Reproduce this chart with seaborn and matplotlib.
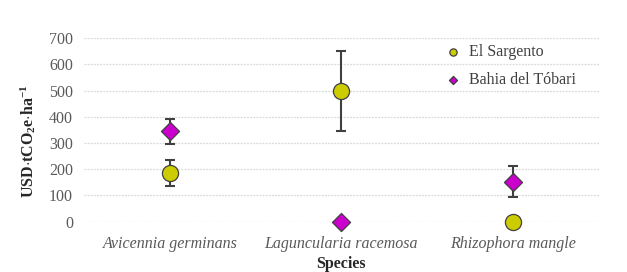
import numpy as np
import matplotlib
matplotlib.use("Agg")
import matplotlib.pyplot as plt
import pandas as pd
import seaborn as sns

species = ["Avicennia germinans", "Laguncularia racemosa", "Rhizophora mangle"]
sites = ["El Sargento", "Bahia del Tóbari"]
sargento_val = [187, 497, 0]
sargento_err = [50, 153, 0]
tobari_val = [344, 0, 153]
tobari_err = [49, 0, 58]

sns.set_style("white")
plt.rcParams["font.family"] = ["Liberation Serif", "DejaVu Serif"]
plt.rcParams["mathtext.fontset"] = "custom"
plt.rcParams["mathtext.rm"] = "Liberation Serif"
plt.rcParams["mathtext.bf"] = "Liberation Serif:bold"

df = pd.DataFrame({
    "Species": species * 2,
    "Site": [sites[0]] * 3 + [sites[1]] * 3,
    "value": sargento_val + tobari_val,
    "err": sargento_err + tobari_err,
})

colors = {sites[0]: "#CCCC00", sites[1]: "#CC00CC"}
markers = {sites[0]: "o", sites[1]: "D"}
sizes = {sites[0]: 135, sites[1]: 85}

fig, ax = plt.subplots(figsize=(6.27, 2.72), dpi=100)
fig.subplots_adjust(left=0.134, right=0.955, top=0.86, bottom=0.185)

# error bars first so markers sit on top
for site in sites:
    sub = df[df["Site"] == site]
    ax.errorbar(sub["Species"], sub["value"], yerr=sub["err"], fmt="none",
                ecolor="#404040", elinewidth=1.5, capsize=3.5, capthick=1.5, zorder=2)

for site in sites:
    sns.scatterplot(data=df[df["Site"] == site], x="Species", y="value",
                    color=colors[site], marker=markers[site], s=sizes[site],
                    edgecolor="#404040", linewidth=0.9, zorder=3, ax=ax, label=site)
for c in ax.collections:
    c.set_clip_on(False)

ax.set_xlim(-0.5, 2.5)
ax.set_ylim(0, 700)
ax.set_yticks(range(0, 701, 100))
ax.grid(axis="y", color="#d9d9d9", linestyle=(0, (1.5, 1)), linewidth=0.9)
ax.set_axisbelow(True)
for s in ax.spines.values():
    s.set_visible(False)
ax.tick_params(axis="both", length=0, labelsize=11.5, colors="#595959")
ax.tick_params(axis="x", pad=10)
ax.tick_params(axis="y", pad=8)
for t in ax.get_xticklabels():
    t.set_fontstyle("italic")

ax.set_xlabel("Species", fontsize=11.5, fontweight="bold", labelpad=3)
ax.set_ylabel(r"$\mathbf{USD{\cdot}tCO_2e{\cdot}ha^{-1}}$", fontsize=11.5)
ax.yaxis.set_label_coords(-0.089, 0.44)

leg = ax.legend(title=None, frameon=False, loc="upper left",
                bbox_to_anchor=(0.657, 1.045), fontsize=11.5, labelspacing=0.75,
                handletextpad=0.0, markerscale=0.45)
for t in leg.get_texts():
    t.set_color("#404040")

fig.savefig("out.png", dpi=100)
